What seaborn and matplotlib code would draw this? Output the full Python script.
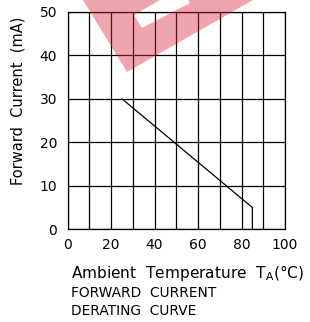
import matplotlib
matplotlib.use("Agg")
import matplotlib.pyplot as plt
import seaborn as sns
import pandas as pd
from matplotlib.patches import Polygon

# derating curve points
temp_c = [25, 85, 85]
current_ma = [30, 5, 0]
x_ticks = [0, 20, 40, 60, 80, 100]
y_ticks = [0, 10, 20, 30, 40, 50]

W, H = 310, 322
sns.set_style("white")
plt.rcParams["font.family"] = ["DejaVu Sans"]
plt.rcParams["text.color"] = "black"

fig = plt.figure(figsize=(W / 100, H / 100), dpi=100)
ax = fig.add_axes([67.5 / W, 1 - 229.3 / H, 217.5 / W, 217.6 / H])

df = pd.DataFrame({"temp": temp_c, "current": current_ma})
sns.lineplot(data=df, x="temp", y="current", sort=False, estimator=None,
             errorbar=None, color="black", linewidth=0.9, ax=ax)

ax.set_xlim(0, 100)
ax.set_ylim(0, 50)
ax.set_xticks(range(0, 101, 10))
ax.set_xticklabels([str(t) if t in x_ticks else "" for t in range(0, 101, 10)])
ax.set_yticks(y_ticks)
ax.grid(True, color="black", linewidth=0.9)
ax.tick_params(axis="x", length=0, labelsize=10, pad=6.5, colors="black")
ax.tick_params(axis="y", length=0, labelsize=10, pad=7.5, colors="black")
for s in ax.spines.values():
    s.set_color("black")
    s.set_linewidth(0.9)
ax.set_xlabel("")
ax.set_ylabel("")

# translucent pink watermark laid over the chart
def px(pts):
    return [(x / W, 1 - y / H) for x, y in pts]

fig.patches.append(Polygon(px([(83, 0), (127, 72), (253, 0), (188, 0), (190, 3),
                               (142, 28), (134, 15), (160, 0)]), closed=True,
                           transform=fig.transFigure, facecolor=(0.86, 0.16, 0.22),
                           alpha=0.42, edgecolor="none", zorder=5))

fig.text(18 / W, 1 - 101 / H, "Forward  Current  (mA)", rotation=90,
         ha="center", va="center", fontsize=10.5)
fig.text(71 / W, 1 - 273 / H, "Ambient  Temperature  T$_\\mathregular{A}$(°C)",
         ha="left", va="center", fontsize=11.1)
fig.text(71 / W, 1 - 293 / H, "FORWARD  CURRENT", ha="left", va="center", fontsize=9.9)
fig.text(71 / W, 1 - 311 / H, "DERATING  CURVE", ha="left", va="center", fontsize=9.9)

fig.savefig("out.png", dpi=100)
